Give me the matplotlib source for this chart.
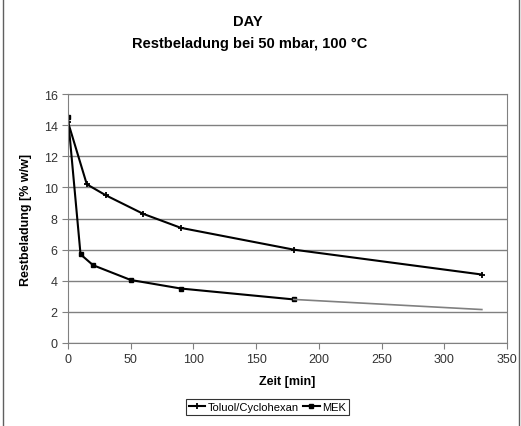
"""Restbeladung over time, DAY sample."""

import matplotlib
matplotlib.use("Agg")
import matplotlib.pyplot as plt
from matplotlib.patches import Rectangle

zeit_toluol = [0, 15, 30, 60, 90, 180, 330]
rest_toluol = [14.2, 10.2, 9.5, 8.3, 7.4, 6.0, 4.4]

zeit_mek = [0, 10, 20, 50, 90, 180]
rest_mek = [14.5, 5.7, 5.0, 4.05, 3.5, 2.8]

zeit_mek_ext = [180, 330]
rest_mek_ext = [2.8, 2.15]

plt.rcParams["font.family"] = ["Liberation Sans", "DejaVu Sans"]

fig = plt.figure(figsize=(5.21, 4.27), dpi=100)
ax = fig.add_axes([0.1305, 0.1944, 0.8425, 0.583])

ax.plot(zeit_toluol, rest_toluol, color="black", lw=1.5, marker="+",
        markersize=4, mew=1.3, label="Toluol/Cyclohexan")
ax.plot(zeit_mek, rest_mek, color="black", lw=1.5, marker="s",
        markersize=3.5, label="MEK")
ax.plot(zeit_mek_ext, rest_mek_ext, color="#808080", lw=1.2)

ax.set_xlim(0, 350)
ax.set_ylim(0, 16)
ax.set_xticks(range(0, 351, 50))
ax.set_yticks(range(0, 17, 2))
ax.yaxis.grid(True, color="#808080", lw=1)
ax.set_axisbelow(True)
for side in ax.spines.values():
    side.set_color("#808080")
ax.tick_params(labelsize=9, colors="#808080", labelcolor="#333333", length=4)

ax.set_xlabel("Zeit [min]", fontsize=9, fontweight="bold", labelpad=7)
ax.set_ylabel("Restbeladung [% w/w]", fontsize=9, fontweight="bold", labelpad=8)

fig.text(0.475, 0.948, "DAY", ha="center", va="center", fontsize=10.5,
         fontweight="bold")
fig.text(0.48, 0.897, "Restbeladung bei 50 mbar, 100 °C", ha="center",
         va="center", fontsize=10.5, fontweight="bold")

leg = fig.legend(loc="center", bbox_to_anchor=(0.513, 0.045), ncol=2,
                 fontsize=8, frameon=True, fancybox=False, handlelength=1.5,
                 handletextpad=0.2, columnspacing=0.4, borderpad=0.25)
leg.get_frame().set_edgecolor("black")
leg.get_frame().set_linewidth(0.8)

fig.patches.append(Rectangle((0.006, -0.01), 0.99, 1.02, transform=fig.transFigure,
                             fill=False, edgecolor="#606060", lw=1))

fig.savefig("out.png", dpi=100)
plt.close(fig)
